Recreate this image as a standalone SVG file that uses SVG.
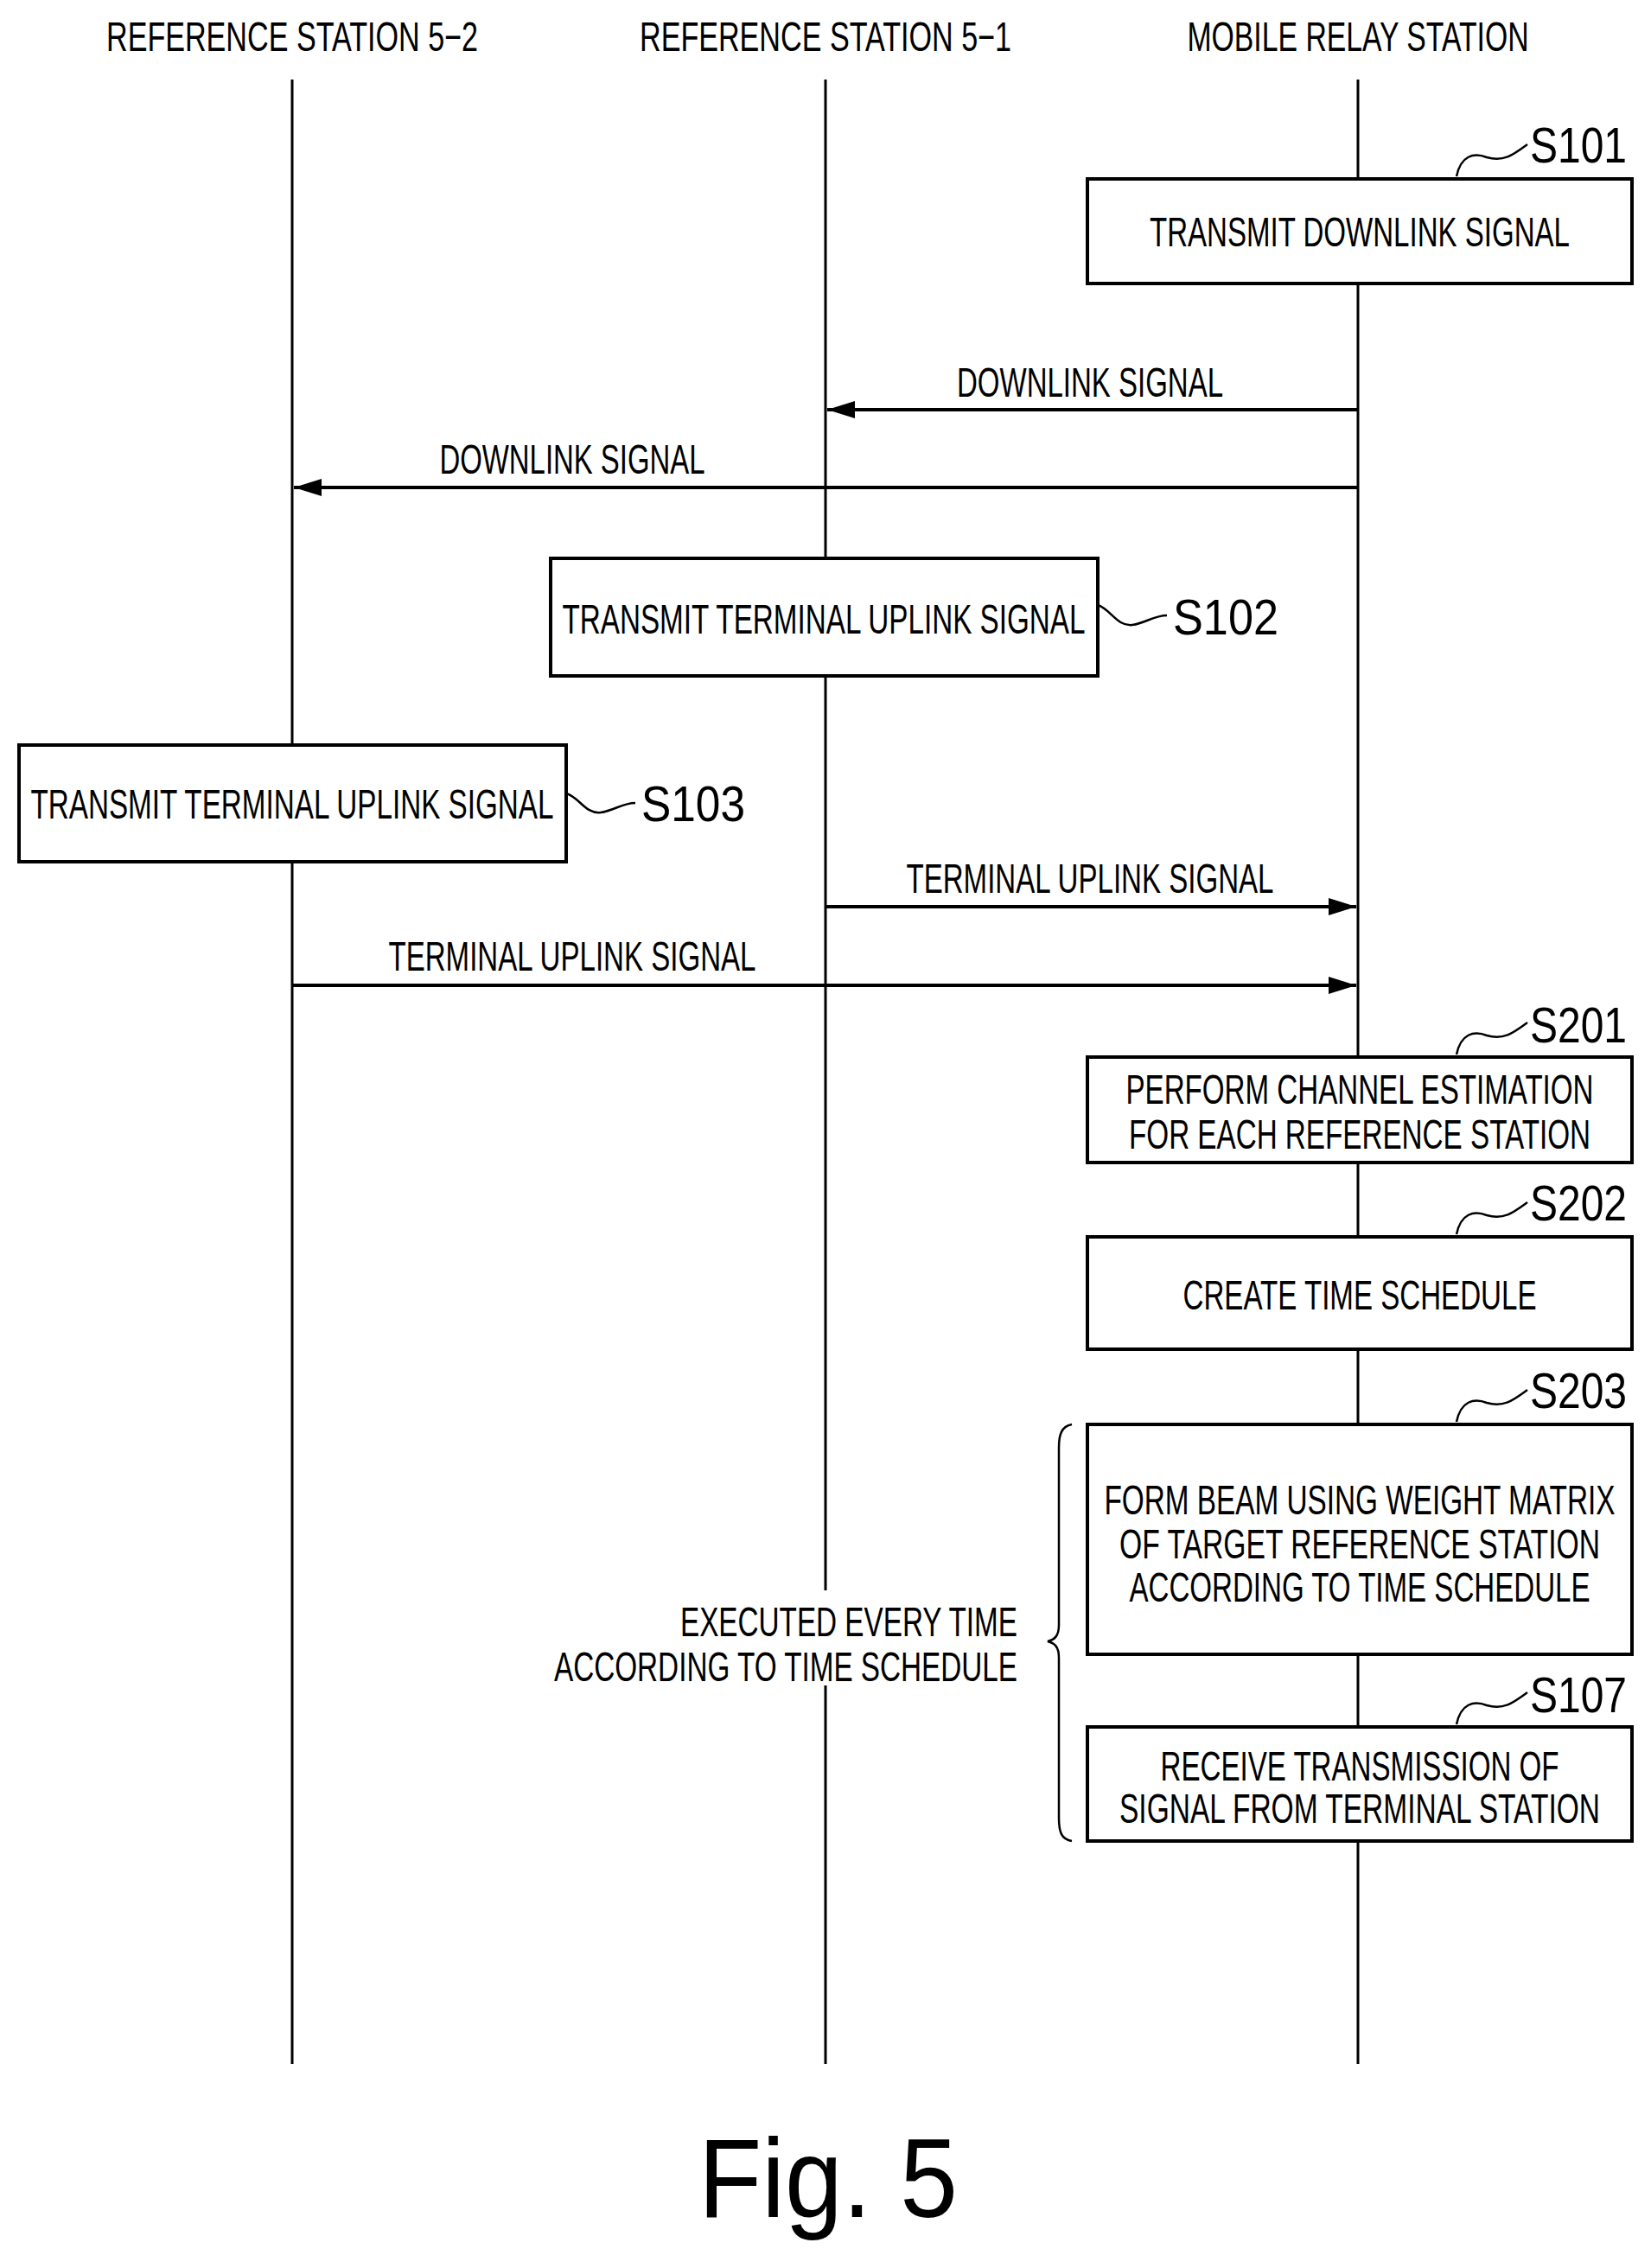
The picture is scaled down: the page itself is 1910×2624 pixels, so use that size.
<svg xmlns="http://www.w3.org/2000/svg" width="1910" height="2624" viewBox="0 0 1910 2624">
<style>
text{font-family:"Liberation Sans",Arial,sans-serif;font-size:48px;fill:#000;text-anchor:middle}
.s{font-size:58px}
.box{fill:#fff;stroke:#000;stroke-width:4}
.life{stroke:#000;stroke-width:3}
.arr{stroke:#000;stroke-width:4;fill:none}
.sq{stroke:#000;stroke-width:2.5;fill:none}
</style>
<defs>
<marker id="a" markerWidth="32" markerHeight="20" refX="32" refY="10" orient="auto" markerUnits="userSpaceOnUse"><path d="M0,0 L32,10 L0,20 z" fill="#000"/></marker></defs>
<rect width="1910" height="2624" fill="#fff"/>
<g id="lifelines">
<line class="life" x1="338" y1="92" x2="338" y2="2388"/>
<line class="life" x1="955" y1="92" x2="955" y2="2388"/>
<line class="life" x1="1571" y1="92" x2="1571" y2="2388"/>
<text x="338" y="59" textLength="430" lengthAdjust="spacingAndGlyphs">REFERENCE STATION 5−2</text>
<text x="955" y="59" textLength="430" lengthAdjust="spacingAndGlyphs">REFERENCE STATION 5−1</text>
<text x="1571" y="59" textLength="395" lengthAdjust="spacingAndGlyphs">MOBILE RELAY STATION</text>
</g>
<g id="connectors">
<line class="arr" x1="1571" y1="474" x2="957" y2="474" marker-end="url(#a)"/>
<text x="1261" y="459" textLength="308" lengthAdjust="spacingAndGlyphs">DOWNLINK SIGNAL</text>
<line class="arr" x1="1571" y1="564" x2="340" y2="564" marker-end="url(#a)"/>
<text x="662" y="548" textLength="307" lengthAdjust="spacingAndGlyphs">DOWNLINK SIGNAL</text>
<line class="arr" x1="955" y1="1049" x2="1569" y2="1049" marker-end="url(#a)"/>
<text x="1261" y="1033" textLength="425" lengthAdjust="spacingAndGlyphs">TERMINAL UPLINK SIGNAL</text>
<line class="arr" x1="338" y1="1140" x2="1569" y2="1140" marker-end="url(#a)"/>
<text x="662" y="1123" textLength="425" lengthAdjust="spacingAndGlyphs">TERMINAL UPLINK SIGNAL</text>
</g>
<g id="S101">
<rect class="box" x="1258" y="207" width="630" height="121"/>
<text x="1573" y="285" textLength="486" lengthAdjust="spacingAndGlyphs">TRANSMIT DOWNLINK SIGNAL</text>
<path class="sq" d="M1685,204 C1690,180 1705,176 1720,182 C1740,188 1752,178 1767,167"/>
<text class="s" x="1826" y="188" textLength="112" lengthAdjust="spacingAndGlyphs">S101</text>
</g>
<g id="S102">
<rect class="box" x="637" y="646" width="633" height="136"/>
<text x="953" y="733" textLength="605" lengthAdjust="spacingAndGlyphs">TRANSMIT TERMINAL UPLINK SIGNAL</text>
<path class="sq" d="M1270,700 C1285,705 1292,725 1310,723 C1325,721 1335,712 1350,712"/>
<text class="s" x="1418" y="734" textLength="122" lengthAdjust="spacingAndGlyphs">S102</text>
</g>
<g id="S103">
<rect class="box" x="22" y="862" width="633" height="135"/>
<text x="338" y="947" textLength="605" lengthAdjust="spacingAndGlyphs">TRANSMIT TERMINAL UPLINK SIGNAL</text>
<path class="sq" d="M655,918 C670,922 677,942 695,940 C710,938 720,929 735,929"/>
<text class="s" x="802" y="950" textLength="120" lengthAdjust="spacingAndGlyphs">S103</text>
</g>
<g id="S201">
<rect class="box" x="1258" y="1223" width="630" height="122"/>
<text x="1573" y="1277" textLength="541" lengthAdjust="spacingAndGlyphs">PERFORM CHANNEL ESTIMATION</text>
<text x="1573" y="1329" textLength="534" lengthAdjust="spacingAndGlyphs">FOR EACH REFERENCE STATION</text>
<path class="sq" d="M1685,1220 C1690,1196 1705,1192 1720,1198 C1740,1204 1752,1194 1767,1183"/>
<text class="s" x="1826" y="1206" textLength="112" lengthAdjust="spacingAndGlyphs">S201</text>
</g>
<g id="S202">
<rect class="box" x="1258" y="1431" width="630" height="130"/>
<text x="1573" y="1515" textLength="409" lengthAdjust="spacingAndGlyphs">CREATE TIME SCHEDULE</text>
<path class="sq" d="M1685,1428 C1690,1404 1705,1400 1720,1406 C1740,1412 1752,1402 1767,1391"/>
<text class="s" x="1826" y="1412" textLength="112" lengthAdjust="spacingAndGlyphs">S202</text>
</g>
<g id="S203">
<rect class="box" x="1258" y="1648" width="630" height="266"/>
<text x="1573" y="1752" textLength="591" lengthAdjust="spacingAndGlyphs">FORM BEAM USING WEIGHT MATRIX</text>
<text x="1573" y="1803" textLength="556" lengthAdjust="spacingAndGlyphs">OF TARGET REFERENCE STATION</text>
<text x="1573" y="1853" textLength="533" lengthAdjust="spacingAndGlyphs">ACCORDING TO TIME SCHEDULE</text>
<path class="sq" d="M1685,1645 C1690,1621 1705,1617 1720,1623 C1740,1629 1752,1619 1767,1608"/>
<text class="s" x="1826" y="1629" textLength="112" lengthAdjust="spacingAndGlyphs">S203</text>
</g>
<g id="S107">
<rect class="box" x="1258" y="1998" width="630" height="132"/>
<text x="1573" y="2060" textLength="461" lengthAdjust="spacingAndGlyphs">RECEIVE TRANSMISSION OF</text>
<text x="1573" y="2109" textLength="556" lengthAdjust="spacingAndGlyphs">SIGNAL FROM TERMINAL STATION</text>
<path class="sq" d="M1685,1995 C1690,1971 1705,1967 1720,1973 C1740,1979 1752,1969 1767,1958"/>
<text class="s" x="1826" y="1981" textLength="112" lengthAdjust="spacingAndGlyphs">S107</text>
</g>
<g id="brace">
<path class="sq" d="M1240,1648 C1228,1650 1225,1660 1225,1675 L1225,1880 C1225,1893 1220,1897 1212,1899 C1220,1901 1225,1905 1225,1918 L1225,2103 C1225,2120 1228,2128 1240,2130"/>
<rect x="900" y="1840" width="280" height="110" fill="#fff"/>
<text x="1177" y="1893" style="text-anchor:end" textLength="390" lengthAdjust="spacingAndGlyphs">EXECUTED EVERY TIME</text>
<text x="1177" y="1945" style="text-anchor:end" textLength="536" lengthAdjust="spacingAndGlyphs">ACCORDING TO TIME SCHEDULE</text>
</g>
<text x="958" y="2565" style="font-size:130px" textLength="300" lengthAdjust="spacingAndGlyphs">Fig. 5</text>
</svg>
